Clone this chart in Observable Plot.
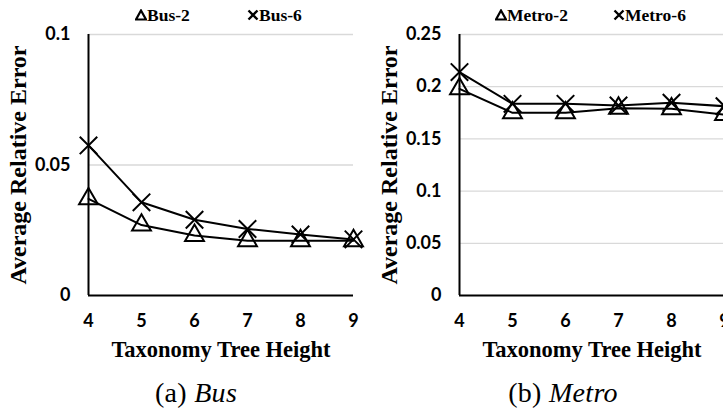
<!DOCTYPE html>
<html>
<head>
<meta charset="utf-8">
<script src="https://cdn.jsdelivr.net/npm/d3@7"></script>
<script src="https://cdn.jsdelivr.net/npm/@observablehq/plot@0.6"></script>
<style>
  html, body { margin: 0; padding: 0; background: #fff; }
  body { width: 723px; height: 412px; overflow: hidden; position: relative; }
  .panel { position: absolute; top: 20px; width: 370px; height: 340px; }
  .panel svg { max-width: none !important; width: 370px; height: 340px; display: block; }
  .panel g[aria-label$="tick label"] text { font-family: "Lato", "Open Sans", sans-serif; font-weight: 700; font-size: 18px; fill: #000; }
  .legend { position: absolute; top: 5px; font-family: "Liberation Serif", serif; font-weight: 700; font-size: 17.5px; line-height: 20px; white-space: nowrap; }
  .legend span.item { position: absolute; top: 0; display: flex; align-items: center; }
  .legend svg { display: block; margin-right: 0px; }
  .caption { position: absolute; top: 377px; font-family: "Liberation Serif", serif; font-size: 28px; letter-spacing: 0.3px; white-space: nowrap; transform: translateX(-50%); }
</style>
</head>
<body>
<div id="p1" class="panel" style="left:0px"></div>
<div id="p2" class="panel" style="left:371px"></div>
<div class="legend" style="left:0">
  <span class="item" id="l1" style="left:135px"></span>
  <span class="item" id="l2" style="left:247px"></span>
  <span class="item" id="l3" style="left:495px"></span>
  <span class="item" id="l4" style="left:613px"></span>
</div>
<div class="caption" style="left:196px">(a) <i>Bus</i></div>
<div class="caption" style="left:563px">(b) <i>Metro</i></div>
<script>
// ---- data ----
const heights = [4, 5, 6, 7, 8, 9];
const busSeries = ["Bus-2", "Bus-6"];
const bus2 = [0.037, 0.027, 0.023, 0.021, 0.021, 0.021];
const bus6 = [0.0575, 0.0357, 0.029, 0.0255, 0.0234, 0.0215];
const busYTicks = [0, 0.05, 0.1];
const metroSeries = ["Metro-2", "Metro-6"];
const metro2 = [0.198, 0.175, 0.175, 0.1794, 0.1788, 0.1733];
const metro6 = [0.214, 0.1836, 0.1836, 0.182, 0.1846, 0.1813];
const metroYTicks = [0, 0.05, 0.1, 0.15, 0.2, 0.25];
const xLabel = "Taxonomy Tree Height";
const yLabel = "Average Relative Error";

function rows(names, a, b) {
  return [
    ...heights.map((h, i) => ({series: names[0], h, v: a[i]})),
    ...heights.map((h, i) => ({series: names[1], h, v: b[i]}))
  ];
}

const labelFont = {fontFamily: "Liberation Serif, serif", fontWeight: "bold", fill: "#000", textAnchor: "middle", lineAnchor: "middle"};

function panel(names, a, b, yTicks) {
  const data = rows(names, a, b);
  const yMax = yTicks[yTicks.length - 1];
  return Plot.plot({
    width: 370, height: 340,
    marginLeft: 88, marginRight: 17, marginTop: 14, marginBottom: 65,
    x: {domain: [heights[0], heights[heights.length - 1]]},
    y: {domain: [0, yMax]},
    style: {background: "transparent", color: "#000", overflow: "visible"},
    marks: [
      Plot.gridY(yTicks.filter(d => d > 0), {stroke: "#d9d9d9", strokeOpacity: 1, strokeWidth: 1.3}),
      Plot.axisX(heights, {tickSize: 0, tickPadding: 19, tickFormat: d => String(d), label: null}),
      Plot.axisY(yTicks, {tickSize: 0, tickPadding: 18, tickFormat: d => String(d), label: null}),
      Plot.text([xLabel], {text: d => d, frameAnchor: "bottom", dy: 54, fontSize: 22.5, ...labelFont}),
      Plot.text([yLabel], {text: d => d, frameAnchor: "left", dx: -70, rotate: -90, fontSize: 24, ...labelFont}),
      Plot.ruleY([0], {stroke: "#000", strokeWidth: 2}),
      Plot.ruleX([heights[0]], {y1: 0, y2: yMax, stroke: "#000", strokeWidth: 2}),
      Plot.line(data, {x: "h", y: "v", z: "series", stroke: "#000", strokeWidth: 2}),
      Plot.dot(data.filter(d => d.series === names[0]), {x: "h", y: "v", symbol: "triangle", r: 7, stroke: "#000", strokeWidth: 2, fill: "none"}),
      Plot.dot(data.filter(d => d.series === names[1]), {x: "h", y: "v", symbol: "times", r: 8, stroke: "#000", strokeWidth: 2, fill: "none"})
    ]
  });
}

document.getElementById("p1").appendChild(panel(busSeries, bus2, bus6, busYTicks));
document.getElementById("p2").appendChild(panel(metroSeries, metro2, metro6, metroYTicks));

const tri = '<svg width="12" height="12" viewBox="0 0 12 12"><path d="M6 1.5 L11 10.5 L1 10.5 Z" fill="none" stroke="#000" stroke-width="2.2"/></svg>';
const crs = '<svg width="12" height="12" viewBox="0 0 12 12"><path d="M1.5 1.5 L10.5 10.5 M10.5 1.5 L1.5 10.5" fill="none" stroke="#000" stroke-width="2.4"/></svg>';
const legendItems = [[tri, busSeries[0]], [crs, busSeries[1]], [tri, metroSeries[0]], [crs, metroSeries[1]]];
legendItems.forEach(([sym, name], i) => {
  document.getElementById("l" + (i + 1)).innerHTML = sym + "<span>" + name + "</span>";
});
</script>
</body>
</html>
